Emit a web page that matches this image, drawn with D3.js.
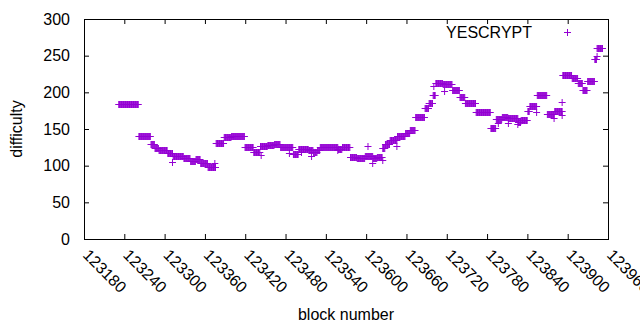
<!DOCTYPE html>
<html>
<head>
<meta charset="utf-8">
<script src="https://cdn.jsdelivr.net/npm/d3@7"></script>
<style>
  body { margin: 0; background: #fff; }
  text { font-family: "Liberation Sans", Arial, sans-serif; font-size: 16px; fill: #000; }
</style>
</head>
<body>
<div id="chart"></div>
<script>
// Difficulty held constant over runs of blocks
var runStart = [123231, 123261, 123279, 123285, 123291, 123304, 123312, 123328, 123338, 123346,
                123353, 123364, 123376, 123388, 123399, 123419, 123432, 123442, 123453, 123463,
                123472, 123491, 123499, 123514, 123521, 123527, 123531, 123539, 123558, 123564,
                123576, 123586, 123598, 123610, 123616, 123624, 123628, 123635, 123646, 123658,
                123665, 123673, 123687, 123693, 123699, 123703, 123714, 123728, 123739, 123747,
                123763, 123785, 123793, 123802, 123811, 123826, 123830, 123840, 123843, 123854,
                123869, 123880, 123892, 123906, 123915, 123922, 123929, 123940, 123943];
var runEnd   = [123260, 123278, 123284, 123290, 123303, 123311, 123327, 123337, 123345, 123352,
                123363, 123375, 123387, 123398, 123418, 123431, 123441, 123452, 123462, 123471,
                123490, 123498, 123513, 123520, 123526, 123530, 123538, 123557, 123563, 123575,
                123585, 123597, 123609, 123615, 123623, 123627, 123634, 123645, 123657, 123664,
                123672, 123686, 123692, 123698, 123702, 123713, 123727, 123738, 123746, 123762,
                123784, 123792, 123801, 123810, 123825, 123829, 123839, 123842, 123853, 123868,
                123879, 123891, 123905, 123914, 123921, 123928, 123939, 123942, 123951];
var runDifficulty = [184, 140, 129, 124, 121, 117, 113, 111, 106, 109,
                     104, 98, 131, 139, 141, 125, 118, 127, 128, 129,
                     125, 116, 123, 121, 118, 122, 126, 125, 123, 125,
                     112, 110, 113, 110, 112, 124, 129, 135, 140, 145,
                     148, 167, 179, 186, 196, 213, 212, 203, 193, 186,
                     173, 152, 164, 167, 165, 160, 162, 175, 181, 197,
                     171, 174, 224, 220, 213, 203, 216, 246, 261];

// Scattered single blocks off the runs
var extraBlocks = [123311, 123374, 123443, 123485, 123503, 123518, 123557, 123609, 123624, 123602,
                   123645, 123700, 123716, 123788, 123796, 123811, 123825, 123853, 123879, 123891,
                   123891, 123940, 123943];
var extraDifficulty = [105, 104, 115, 117, 119, 113, 121, 104, 108, 127,
                       127, 208, 202, 151, 158, 158, 157, 173, 165, 169,
                       187, 245, 249];

var xTicks = [123180, 123240, 123300, 123360, 123420, 123480, 123540, 123600, 123660,
              123720, 123780, 123840, 123900, 123960];
var yTicks = [0, 50, 100, 150, 200, 250, 300];

var seriesName = "YESCRYPT";
var color = "#9400d3";

var svgWidth = 640;
var svgHeight = 330;
var margin = { top: 19, right: 32, bottom: 91, left: 84 };
var width = svgWidth - margin.left - margin.right;
var height = svgHeight - margin.top - margin.bottom;

var svg = d3.select("#chart")
  .append("svg")
  .attr("width", svgWidth)
  .attr("height", svgHeight);

var chartGroup = svg.append("g")
  .attr("transform", `translate(${margin.left}, ${margin.top})`);

// one point per block
var points = [];
runStart.forEach(function(s, i) {
  for (var b = s; b <= runEnd[i]; b++) points.push({ block: b, difficulty: runDifficulty[i] });
});
extraBlocks.forEach(function(b, i) {
  points.push({ block: b, difficulty: extraDifficulty[i] });
});

var xScale = d3.scaleLinear().domain([123180, 123960]).range([0, width]);
var yScale = d3.scaleLinear().domain([0, 300]).range([height, 0]);

// Axes (ticks inward, mirrored)
var tickLen = 5;
var bottomAxis = d3.axisBottom(xScale).tickValues(xTicks).tickSizeInner(-tickLen).tickSizeOuter(0).tickFormat("");
var topAxis = d3.axisTop(xScale).tickValues(xTicks).tickSizeInner(-tickLen).tickSizeOuter(0).tickFormat("");
var leftAxis = d3.axisLeft(yScale).tickValues(yTicks).tickSizeInner(-tickLen).tickSizeOuter(0).tickFormat("");
var rightAxis = d3.axisRight(yScale).tickValues(yTicks).tickSizeInner(-tickLen).tickSizeOuter(0).tickFormat("");

chartGroup.append("g").attr("transform", `translate(0, ${height})`).call(bottomAxis);
chartGroup.append("g").call(topAxis);
chartGroup.append("g").call(leftAxis);
chartGroup.append("g").attr("transform", `translate(${width}, 0)`).call(rightAxis);
chartGroup.selectAll(".domain").remove();
chartGroup.selectAll(".tick line").attr("stroke", "#000");

chartGroup.append("rect")
  .attr("x", 0.5).attr("y", 0.5)
  .attr("width", width).attr("height", height)
  .attr("fill", "none").attr("stroke", "#000");

// Y tick labels
chartGroup.selectAll(".ylab")
  .data(yTicks)
  .enter()
  .append("text")
  .attr("x", -14)
  .attr("y", function(d) { return yScale(d); })
  .attr("dy", "0.36em")
  .attr("text-anchor", "end")
  .text(function(d) { return d; });

// X tick labels, rotated
chartGroup.selectAll(".xlab")
  .data(xTicks)
  .enter()
  .append("text")
  .attr("transform", function(d) { return `translate(${xScale(d) + 2}, ${height + 13}) rotate(45)`; })
  .attr("dy", "0.36em")
  .attr("text-anchor", "start")
  .text(function(d) { return d; });

// Points
var plus = "M-3.5,0h7M0,-3.5v7";
chartGroup.selectAll(".pt")
  .data(points)
  .enter()
  .append("path")
  .attr("d", plus)
  .attr("transform", function(d) {
    return `translate(${xScale(d.block) + 0.5}, ${Math.round(yScale(d.difficulty)) + 0.5})`;
  })
  .attr("fill", "none")
  .attr("stroke", color)
  .attr("stroke-width", 1);

// Legend
chartGroup.append("text")
  .attr("x", 448)
  .attr("y", 13)
  .attr("dy", "0.36em")
  .attr("text-anchor", "end")
  .text(seriesName);
chartGroup.append("path")
  .attr("d", plus)
  .attr("transform", "translate(483.5, 13.5)")
  .attr("fill", "none")
  .attr("stroke", color);

// Axis titles
svg.append("text")
  .attr("transform", `translate(22, ${margin.top + height / 2}) rotate(-90)`)
  .attr("text-anchor", "middle")
  .text("difficulty");

svg.append("text")
  .attr("x", margin.left + width / 2)
  .attr("y", 320)
  .attr("text-anchor", "middle")
  .text("block number");
</script>
</body>
</html>
